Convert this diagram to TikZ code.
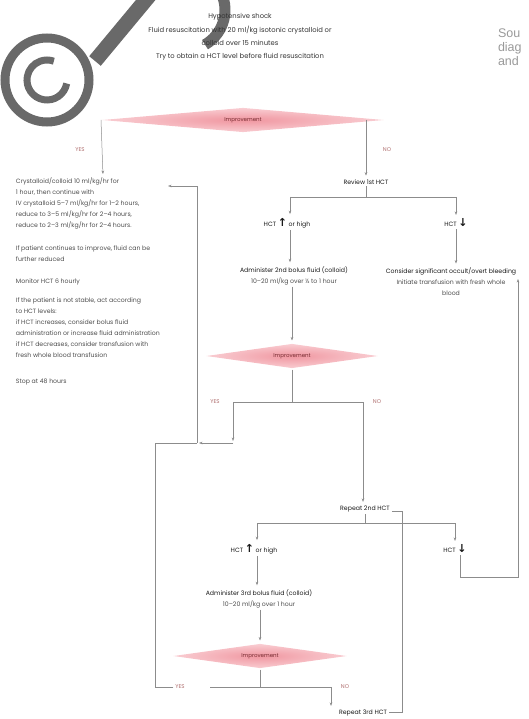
\documentclass[tikz,border=0pt]{standalone}
\usepackage{fontspec}
\setmainfont{Poppins}
\newfontfamily\symfont{DejaVu Sans}
\newfontfamily\srcfont{Liberation Sans}
\usetikzlibrary{shapes.geometric,arrows.meta}
\newcommand{\hctup}{{\symfont\bfseries\fontsize{11}{10}\selectfont ↑}}
\newcommand{\hctdn}{{\symfont\bfseries\fontsize{11}{10}\selectfont ↓}}
\definecolor{lnc}{RGB}{140,140,140}
\definecolor{pinkin}{RGB}{240,150,160}
\definecolor{pinkout}{RGB}{249,205,210}
\definecolor{imptxt}{RGB}{120,45,50}
\definecolor{lblc}{RGB}{175,110,110}
\definecolor{wmc}{RGB}{105,105,105}
\begin{document}
\begin{tikzpicture}[x=1pt,y=-1pt,
  every node/.style={inner sep=1pt, outer sep=1pt},
  txt/.style={font=\fontsize{6.2}{11}\selectfont, text=black!70, align=center},
  strong/.style={txt, text=black!90},
  lbl/.style={font=\fontsize{5.5}{6}\selectfont, text=lblc},
  dec/.style={diamond, shape aspect=11.5, shading=radial, inner color=pinkin, outer color=pinkout,
    minimum width=#1, minimum height=25pt, inner sep=0pt,
    font=\fontsize{5.5}{6}\selectfont, text=imptxt},
  ln/.style={draw=lnc, line width=0.5pt},
  arr/.style={ln, -{Stealth[length=3.5pt,width=2.6pt]}, shorten >=2pt},
  srcs/.style={font=\srcfont\fontsize{12.5}{14}\selectfont, text=black!40, anchor=base west, inner sep=0pt}]
\useasboundingbox (0,0) rectangle (529,719);

% watermark
\draw[wmc, line width=9pt] (47,80) circle[radius=42];
\draw[wmc, line width=7pt] ([shift={(10:20)}]47,80) arc[start angle=10, end angle=290, radius=20];
\draw[wmc, line width=15pt] (95,61) -- (154,-10);
\draw[wmc, line width=11pt] ([shift={(-70:40)}]185,10) arc[start angle=-70, end angle=60, radius=40];

% source text
\node[srcs] (src1) at (497,38) {Sou};
\node[srcs] (src2) at (497,52) {diag};
\node[srcs] (src3) at (497,66) {and};

% header
\node[txt, text=black!80, font=\fontsize{6.8}{13.3}\selectfont] (hdr) at (240,37)
  {Hypotensive shock\\Fluid resuscitation with 20 ml/kg isotonic crystalloid or\\colloid over 15 minutes\\Try to obtain a HCT level before fluid resuscitation};

% decision 1
\node[dec=282] (d1) at (243,120) {Improvement};
\node[lbl] (yes1) at (80,150) {YES};
\node[lbl] (no1) at (387,150) {NO};
\coordinate (y1d) at (103,176);

% left management box
\node[txt, align=left, anchor=north west, inner sep=0pt] (care) at (15,177)
  {Crystalloid/colloid 10 ml/kg/hr for\\
   1 hour, then continue with\\
   IV crystalloid 5–7 ml/kg/hr for 1–2 hours,\\
   reduce to 3–5 ml/kg/hr for 2–4 hours,\\
   reduce to 2–3 ml/kg/hr for 2–4 hours.\\[12pt]
   If patient continues to improve, fluid can be\\
   further reduced\\[11pt]
   Monitor HCT 6 hourly\\[8pt]
   If the patient is not stable, act according\\
   to HCT levels:\\
   if HCT increases, consider bolus fluid\\
   administration or increase fluid administration\\
   if HCT decreases, consider transfusion with\\
   fresh whole blood transfusion\\[15pt]
   Stop at 48 hours};

% review 1st HCT
\node[strong] (rev) at (366,182) {Review 1st HCT};
\coordinate (s1l) at (290,197);
\coordinate (s1r) at (456,197);
\node[strong] (up1) at (287,223) {HCT \hctup\ or high};
\node[strong] (dn1) at (456,223) {HCT \hctdn};
\node[txt] (adm2) at (294,275.5) {\textcolor{black!90}{Administer 2nd bolus fluid (colloid)}\\10–20 ml/kg over ½ to 1 hour};
\node[txt] (cons) at (451,281.5) {\textcolor{black!90}{Consider significant occult/overt bleeding}\\Initiate transfusion with fresh whole\\blood};

% decision 2
\node[dec=172] (d2) at (292,356) {Improvement};
\node[lbl] (yes2) at (215,402) {YES};
\node[lbl] (no2) at (377,402) {NO};
\coordinate (y2a) at (233,402);
\coordinate (n2a) at (363,402);
\coordinate (j2) at (233,443);
\coordinate (jm) at (197,443);
\coordinate (jl) at (155,443);
\coordinate (jt) at (197,186);
\coordinate (cin) at (166,186);

% repeat 2nd HCT
\node[strong] (rep2) at (365,509) {Repeat 2nd HCT};
\coordinate (s2l) at (257,523);
\coordinate (s2r) at (455,523);
\coordinate (r2c) at (402,511);
\coordinate (r3c) at (402,712);
\node[strong] (up2) at (254,549) {HCT \hctup\ or high};
\node[strong] (dn2) at (455,549) {HCT \hctdn};
\coordinate (c1) at (518,577);
\coordinate (c2) at (518,277);
\node[txt] (adm3) at (259,598.5) {\textcolor{black!90}{Administer 3rd bolus fluid (colloid)}\\10–20 ml/kg over 1 hour};

% decision 3
\node[dec=174] (d3) at (260,656) {Improvement};
\node[lbl] (yes3) at (180,687) {YES};
\node[lbl] (no3) at (345,687) {NO};
\coordinate (y3a) at (210,687);
\coordinate (n3a) at (331,687);
\coordinate (y3l) at (155,687);
\node[strong] (rep3) at (363,713) {Repeat 3rd HCT};

% connectors
\draw[arr] (d1.west) -- (y1d);
\draw[arr] (d1.east -| rev) -- (rev.north);
\draw[ln] (rev.south) -- (rev.south |- s1l);
\draw[ln] (s1l) -- (s1r);
\draw[arr] (s1l) -- (up1.north -| s1l);
\draw[arr] (s1r) -- (dn1.north);
\draw[arr] (up1.south -| s1l) -- (adm2.north -| s1l);
\draw[arr] (dn1.south) -- (cons.north -| dn1);
\draw[arr] (adm2.south -| d2) -- (d2.north);
\draw[ln] (d2.south) -- (d2.south |- y2a);
\draw[ln] (y2a) -- (n2a);
\draw[arr] (y2a) -- (j2);
\draw[arr] (j2) -- (jm);
\draw[ln] (jl) -- (jm);
\draw[arr] (jm) -- (jt) -- (cin);
\draw[ln] (yes3.west) -- (y3l) -- (jl);
\draw[arr] (n2a) -- (rep2.north -| n2a);
\draw[ln] (rep2.south) -- (rep2.south |- s2l);
\draw[ln] (s2l) -- (s2r);
\draw[arr] (s2l) -- (up2.north -| s2l);
\draw[arr] (s2r) -- (dn2.north -| s2r);
\draw[ln] (rep2.east |- r2c) -- (r2c) -- (r3c) -- (rep3.east |- r3c);
\draw[arr] (up2.south -| s2l) -- (adm3.north -| s2l);
\draw[arr] (dn2.south -| c1) ++(-58,0) |- (c1) -- (c2);
\draw[arr] (adm3.south -| d3) -- (d3.north);
\draw[ln] (d3.south) -- (d3.south |- y3a);
\draw[ln] (y3a) -- (n3a);
\draw[arr] (n3a) -- (rep3.north -| n3a);
\end{tikzpicture}
\end{document}
